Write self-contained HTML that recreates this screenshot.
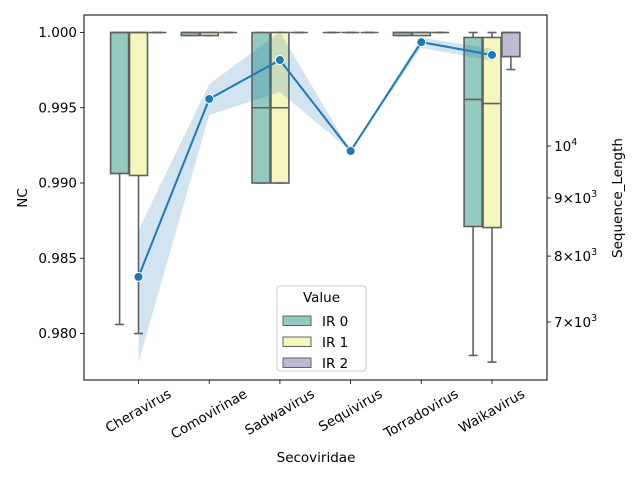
<!DOCTYPE html>
<html><head><meta charset="utf-8"><style>
body{margin:0;background:#fff}
svg text{font-family:"DejaVu Sans","Liberation Sans",sans-serif;fill:#000}
</style></head><body>
<svg id="c" width="640" height="480" xmlns="http://www.w3.org/2000/svg"></svg>
<script>
const categories=["Cheravirus","Comovirinae","Sadwavirus","Sequivirus","Torradovirus","Waikavirus"];
const hues=["IR 0","IR 1","IR 2"];
// [whiskerLow, Q1, median, Q3, whiskerHigh] per category per hue
const boxIR0=[[0.9806,0.99063,1,1,1],[0.9998,0.9998,1,1,1],[0.990,0.990,0.995,1,1],[1,1,1,1,1],[0.9998,0.9998,1,1,1],[0.97854,0.98711,0.99555,0.99967,1]];
const boxIR1=[[0.9800,0.9905,1,1,1],[0.9998,0.9998,1,1,1],[0.990,0.990,0.995,1,1],[1,1,1,1,1],[0.9998,0.9998,1,1,1],[0.9781,0.98704,0.99528,0.99967,1]];
const boxIR2=[[1,1,1,1,1],[1,1,1,1,1],[1,1,1,1,1],[1,1,1,1,1],[1,1,1,1,1],[0.99754,0.9984,1,1,1]];
const lineMean=[7670,11000,11904,9899,12343,12026];
const lineLow=[6450,10648,11156,9899,12203,11880];
const lineHigh=[8432,11337,12598,9899,12458,12175];
const leftTicks=[1.000,0.995,0.990,0.985,0.980];
const rightTicks=[10000,9000,8000,7000];
const rightTickLabels=[["10","4"],["9×10","3"],["8×10","3"],["7×10","3"]];

const NS="http://www.w3.org/2000/svg";
const svg=document.getElementById('c');
const L=84,R=547,T=15,B=380;
function yL(v){return 32.5+(1-v)*15050;}
function yR(v){return 146-(Math.log10(v)-4)*1136;}
function xC(i){return 138.5+i*70.7;}
function el(tag,attrs,parent){const e=document.createElementNS(NS,tag);for(const k in attrs)e.setAttribute(k,attrs[k]);(parent||svg).appendChild(e);return e;}

const colors=["#93c9bf","#f5f5be","#bebad5"];
const boxData=[boxIR0,boxIR1,boxIR2];
const hw=18.9,bw=18,ec='#606060';
boxData.forEach((arr,h)=>{
  arr.forEach((d,i)=>{
    const cx=xC(i)+(h-1)*hw;
    const g=el('g',{});
    
    
    const [wl,q1,md,q3,wh]=d;
    el('line',{x1:cx,x2:cx,y1:yL(q1),y2:yL(wl),stroke:ec,'stroke-width':1.6},g);
    el('line',{x1:cx,x2:cx,y1:yL(q3),y2:yL(wh),stroke:ec,'stroke-width':1.6},g);
    el('line',{x1:cx-bw/4,x2:cx+bw/4,y1:yL(wl),y2:yL(wl),stroke:ec,'stroke-width':1.6},g);
    el('line',{x1:cx-bw/4,x2:cx+bw/4,y1:yL(wh),y2:yL(wh),stroke:ec,'stroke-width':1.6},g);
    el('rect',{x:cx-bw/2,y:yL(q3),width:bw,height:Math.max(0,yL(q1)-yL(q3)),fill:colors[h],stroke:ec,'stroke-width':1.6},g);
    el('line',{x1:cx-bw/2,x2:cx+bw/2,y1:yL(md),y2:yL(md),stroke:ec,'stroke-width':1.6},g);
  });
});

let pts=[];
categories.forEach((c,i)=>pts.push(xC(i)+','+yR(lineHigh[i])));
for(let i=categories.length-1;i>=0;i--)pts.push(xC(i)+','+yR(lineLow[i]));
const band=el('polygon',{points:pts.join(' '),fill:'#1f77b4','fill-opacity':0.2,stroke:'none'});



const lp=categories.map((c,i)=>xC(i)+','+yR(lineMean[i])).join(' ');
const line=el('polyline',{points:lp,fill:'none',stroke:'#1f77b4','stroke-width':2});


categories.forEach((c,i)=>{
  const m=el('circle',{cx:xC(i),cy:yR(lineMean[i]),r:4.5,fill:'#1f77b4',stroke:'#fff','stroke-width':1});
  
  
});

const fr=el('rect',{x:L,y:T,width:R-L,height:B-T,fill:'none',stroke:'#000','stroke-width':1});



leftTicks.forEach(v=>{
  const y=yL(v);
  el('line',{x1:L-4,x2:L,y1:y,y2:y,stroke:'#000','stroke-width':0.8});
  const t=el('text',{x:L-7,y:y+4.5,'text-anchor':'end','font-size':13.5});
  t.textContent=v.toFixed(3);
  
  
});
const yt=el('text',{x:0,y:0,'text-anchor':'middle','font-size':13.5,transform:'translate(27,198) rotate(-90)'});
yt.textContent='NC';



rightTicks.forEach((v,i)=>{
  const y=yR(v);
  el('line',{x1:R,x2:R+4,y1:y,y2:y,stroke:'#000','stroke-width':0.8});
  const t=el('text',{x:R+7,y:y+5,'font-size':13.5});
  
  
  const a=document.createElementNS(NS,'tspan');a.textContent=rightTickLabels[i][0];t.appendChild(a);
  const b=document.createElementNS(NS,'tspan');b.setAttribute('dy','-6');b.setAttribute('font-size','9.5');b.textContent=rightTickLabels[i][1];t.appendChild(b);
});
const rt=el('text',{x:0,y:0,'text-anchor':'middle','font-size':13.5,transform:'translate(622,198) rotate(-90)'});
rt.textContent='Sequence_Length';



categories.forEach((c,i)=>{
  const x=xC(i);
  el('line',{x1:x,x2:x,y1:B,y2:B+4,stroke:'#000','stroke-width':0.8});
  const t=el('text',{x:0,y:0,'text-anchor':'middle','dominant-baseline':'central','font-size':13.5});
  t.textContent=c;
  
  
  const w=t.getComputedTextLength(),h=14;
  const bh=w*0.5+h*0.866;
  t.setAttribute('transform','translate('+x+','+(387+bh/2)+') rotate(-30)');
});
const xt=el('text',{x:316,y:462,'text-anchor':'middle','font-size':13.5});
xt.textContent='Secoviridae';



const lg=el('g',{});


el('rect',{x:277,y:286,width:89,height:85,rx:3,fill:'#fff','fill-opacity':0.8,stroke:'#ccc','stroke-width':1},lg);
const lt=el('text',{x:321.5,y:302,'text-anchor':'middle','font-size':13.5},lg);
lt.textContent='Value';
hues.forEach((h,i)=>{
  const y=316+i*21;
  const e=el('g',{},lg);
  
  
  el('rect',{x:283,y:y,width:28,height:9.5,fill:colors[i],stroke:ec,'stroke-width':1},e);
  const tx=el('text',{x:322,y:y+10,'font-size':13.5},e);
  tx.textContent=h;
});
</script>
</body></html>
